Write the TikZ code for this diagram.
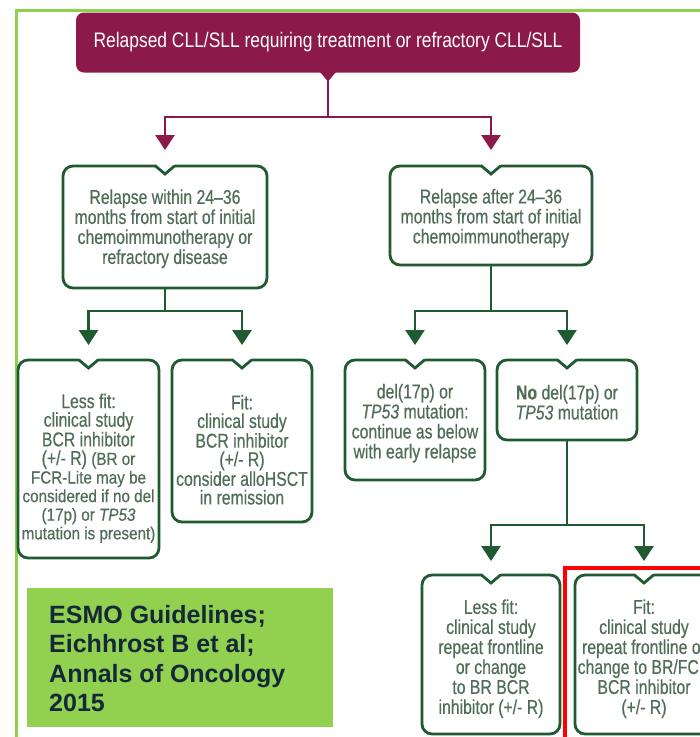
\documentclass[tikz,border=0pt]{standalone}
\usepackage{fontspec}
\setmainfont{Liberation Sans}
\newfontfamily\condfont[FakeStretch=0.79,FakeBold=0.4]{Liberation Sans}
\newfontfamily\notefont[FakeStretch=0.87,FakeBold=0.4]{Liberation Sans}
\newfontfamily\headfont[FakeStretch=0.83]{Liberation Sans}
\usetikzlibrary{arrows.meta,calc}

\definecolor{plum}{HTML}{8B1A4B}
\definecolor{boxgreen}{HTML}{1F5A30}
\definecolor{txtgreen}{HTML}{4F6D57}
\definecolor{framegreen}{HTML}{8FD14F}
\definecolor{labelgreen}{HTML}{92D050}
\definecolor{navy}{HTML}{15283A}

% invisible strut that pushes a box's text block down
\newcommand\pushdown[1]{\rule{0pt}{#1pt}}
\newcommand\smalltxt{\notefont\fontsize{17.5}{18.5}\selectfont}

\tikzset{
  x=1pt, y=-1pt,
  titlebox/.style={fill=plum, rounded corners=8pt, inner sep=0pt, outer sep=0pt,
    text=white, font=\headfont\fontsize{21}{23}\selectfont},
  stepbox/.style={draw=boxgreen, line width=2.8pt, rounded corners=10pt, fill=white,
    inner sep=0pt, outer sep=0pt, align=center, text=txtgreen,
    font=\condfont\fontsize{20}{20}\selectfont},
  tightbox/.style={stepbox, font=\condfont\fontsize{20}{18.6}\selectfont},
  flow/.style={draw=boxgreen, line width=2.8pt},
  arr/.style={flow, -{Triangle[width=19pt,length=15pt]}},
  plumflow/.style={draw=plum, line width=2.8pt},
  plumarr/.style={plumflow, -{Triangle[width=19pt,length=15pt]}},
  notch/.style={draw=boxgreen, line width=2.8pt, line join=miter, line cap=round},
}

\begin{document}
\begin{tikzpicture}
\useasboundingbox (0,0) rectangle (700,737);
\clip (0,0) rectangle (700,737);
\fill[white] (0,0) rectangle (700,737);

% outer frame
\draw[framegreen, line width=3pt] (16,10) rectangle (760,800);

% title
\node[titlebox, minimum width=504pt, minimum height=60pt] (T) at (328,42.5)
  {Relapsed CLL/SLL requiring treatment or refractory CLL/SLL};
\fill[plum] ($(T.south)+(-8.5,-1)$) -- ($(T.south)+(8.5,-1)$) -- ($(T.south)+(0,9)$) -- cycle;

% first level
\node[stepbox, minimum width=204pt, minimum height=122pt] (L1) at (165,227)
  {\pushdown{18}Relapse within 24\textendash 36\\months from start of initial\\chemoimmunotherapy or\\refractory disease};
\node[stepbox, minimum width=202pt, minimum height=99pt] (R1) at (491,215.5)
  {\pushdown{20}Relapse after 24\textendash 36\\months from start of initial\\chemoimmunotherapy};

% second level, left branch
\node[tightbox, minimum width=141pt, minimum height=198pt] (L2) at (88.5,459)
  {\pushdown{33}Less fit:\\clinical study\\BCR inhibitor\\(+/- R) {\smalltxt(BR or}\\
   {\smalltxt FCR-Lite may be}\\{\smalltxt considered if no del}\\
   {\smalltxt(17p) or \textit{TP53}}\\{\smalltxt mutation is present)}};
\node[tightbox, minimum width=140pt, minimum height=162pt] (L3) at (242,441)
  {\pushdown{32}Fit:\\clinical study\\BCR inhibitor\\(+/- R)\\consider alloHSCT\\in remission};

% second level, right branch
\node[stepbox, minimum width=140pt, minimum height=120pt] (D1) at (415,420)
  {\pushdown{21}del(17p) or\\\textit{TP53} mutation:\\continue as below\\with early relapse};
\node[stepbox, minimum width=140pt, minimum height=80pt] (D2) at (567,400)
  {\pushdown{19}\textbf{No} del(17p) or\\\textit{TP53} mutation};

% third level
\node[stepbox, minimum width=138pt, minimum height=159pt] (B1) at (491,654.5)
  {\pushdown{23}Less fit:\\clinical study\\repeat frontline\\or change\\to BR BCR\\inhibitor (+/- R)};
\node[stepbox, minimum width=138pt, minimum height=159pt] (B2) at (644,654.5)
  {\pushdown{23}Fit:\\clinical study\\repeat frontline or\\change to BR/FCR\\BCR inhibitor\\(+/- R)};

% notches on the top edges
\foreach \n in {L1,R1,L2,L3,D1,D2,B1,B2}{
  \fill[white] ($(\n.north)+(-9.5,-3)$) rectangle ($(\n.north)+(9.5,3)$);
  \draw[notch] ($(\n.north)+(-9.5,0)$) -- ($(\n.north)+(0,8)$) -- ($(\n.north)+(9.5,0)$);
}

% junctions
\coordinate (j0) at (328,117);
\coordinate (j1) at (165,311);
\coordinate (j2) at (491,311);
\coordinate (j3) at (567,525);

% connectors
\draw[plumflow] ($(T.south)+(0,8)$) -- (j0);
\draw[plumarr, shorten >=16pt] (j0) -| (L1.north);
\draw[plumarr, shorten >=16pt] (j0) -| (R1.north);

\draw[flow] (L1.south) -- (j1);
\draw[arr, shorten >=15pt] (j1) -| (L2.north);
\draw[arr, shorten >=15pt] (j1) -| (L3.north);

\draw[flow] (R1.south) -- (j2);
\draw[arr, shorten >=15pt] (j2) -| (D1.north);
\draw[arr, shorten >=15pt] (j2) -| (D2.north);

\draw[flow] (D2.south) -- (j3);
\draw[arr, shorten >=14pt] (j3) -| (B1.north);
\draw[arr, shorten >=14pt] (j3) -| (B2.north);

% highlight around the last box
\draw[red, line width=4pt] (565,568) rectangle (740,780);

% source label
\node[fill=labelgreen, minimum width=306pt, minimum height=139pt, inner sep=0pt] (S) at (180,657.5) {};
\node[anchor=north west, align=left, inner sep=0pt, text=navy,
  font=\bfseries\fontsize{25}{29.5}\selectfont] (Stxt) at (49,605)
  {ESMO Guidelines;\\Eichhrost B et al;\\Annals of Oncology\\2015};
\end{tikzpicture}
\end{document}
